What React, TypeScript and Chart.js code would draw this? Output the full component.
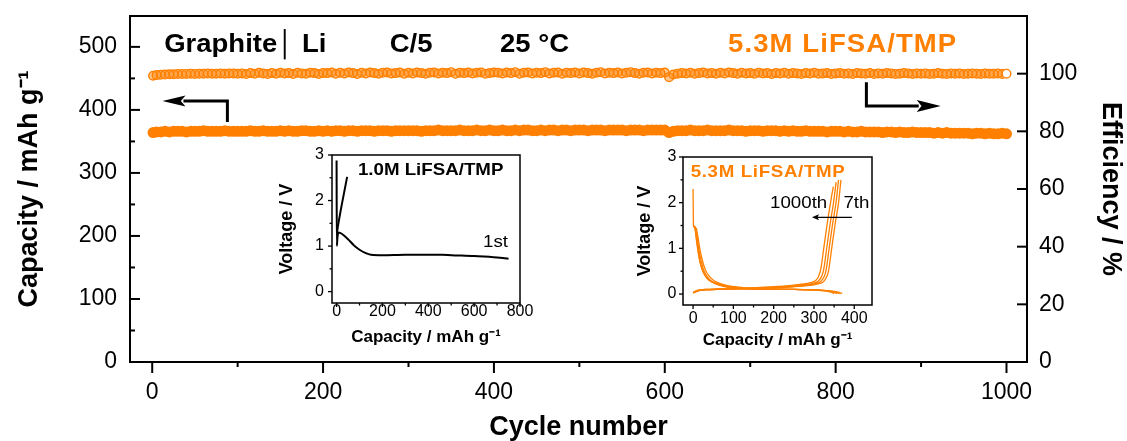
import React, { useEffect, useRef } from 'react';
import { Chart, registerables } from 'chart.js';

Chart.register(...registerables);

const FONT = "'Liberation Sans', Arial, Helvetica, sans-serif";
const ORANGE = '#ff8000';
const BLACK = '#000000';
const SX = 1.1;

// ---------------- main chart data ----------------
const cycles = [
  1, 5, 10, 15, 20, 25, 30, 35, 40, 45, 50, 55, 60, 65, 70, 75, 80, 85, 90, 95, 100,
  105, 110, 115, 120, 125, 130, 135, 140, 145, 150, 155, 160, 165, 170, 175, 180, 185, 190, 195, 200,
  205, 210, 215, 220, 225, 230, 235, 240, 245, 250, 255, 260, 265, 270, 275, 280, 285, 290, 295, 300,
  305, 310, 315, 320, 325, 330, 335, 340, 345, 350, 355, 360, 365, 370, 375, 380, 385, 390, 395, 400,
  405, 410, 415, 420, 425, 430, 435, 440, 445, 450, 455, 460, 465, 470, 475, 480, 485, 490, 495, 500,
  505, 510, 515, 520, 525, 530, 535, 540, 545, 550, 555, 560, 565, 570, 575, 580, 585, 590, 595, 600,
  605, 610, 615, 620, 625, 630, 635, 640, 645, 650, 655, 660, 665, 670, 675, 680, 685, 690, 695, 700,
  705, 710, 715, 720, 725, 730, 735, 740, 745, 750, 755, 760, 765, 770, 775, 780, 785, 790, 795, 800,
  805, 810, 815, 820, 825, 830, 835, 840, 845, 850, 855, 860, 865, 870, 875, 880, 885, 890, 895, 900,
  905, 910, 915, 920, 925, 930, 935, 940, 945, 950, 955, 960, 965, 970, 975, 980, 985, 990, 995, 1000,
];

const capacity = [
  364, 365, 365, 366, 365, 366, 366, 366, 365, 366, 366, 366, 367, 366, 366, 366, 366, 367, 366, 366, 366,
  366, 366, 367, 366, 366, 367, 366, 366, 366, 367, 366, 367, 366, 366, 367, 367, 366, 366, 367, 366,
  367, 366, 367, 367, 366, 367, 367, 366, 367, 367, 367, 366, 367, 367, 367, 366, 367, 367, 367, 367,
  367, 367, 366, 367, 367, 367, 368, 367, 367, 367, 367, 368, 367, 367, 367, 368, 367, 367, 368, 367,
  367, 368, 367, 367, 368, 367, 368, 368, 367, 367, 368, 367, 368, 368, 367, 368, 368, 367, 368, 368,
  368, 367, 368, 368, 368, 367, 368, 368, 368, 368, 367, 368, 368, 368, 367, 368, 368, 368, 368, 368,
  364, 366, 367, 367, 367, 368, 367, 367, 367, 368, 367, 367, 367, 367, 368, 367, 367, 367, 366, 367,
  367, 367, 366, 367, 367, 367, 366, 367, 366, 367, 366, 366, 367, 366, 366, 366, 366, 365, 366, 366,
  366, 365, 366, 365, 365, 366, 365, 365, 365, 365, 364, 365, 365, 364, 365, 364, 364, 365, 364, 364,
  364, 364, 363, 364, 363, 364, 363, 363, 363, 363, 363, 362, 363, 363, 362, 363, 362, 362, 363, 362,
];

const efficiency = [
  99.3, 99.5, 99.6, 99.7, 99.8, 99.8, 99.9, 99.9, 99.9, 100.0, 99.9, 100.0, 100.0, 100.1, 100.0, 100.0, 100.1, 100.0, 100.1, 100.1, 100.0,
  100.1, 99.9, 100.2, 100.0, 100.3, 100.1, 99.9, 100.2, 100.0, 100.3, 100.1, 100.2, 99.9, 100.3, 100.1, 100.0, 100.3, 100.2, 99.9, 100.2,
  100.2, 100.4, 100.0, 100.3, 100.1, 100.4, 100.2, 99.9, 100.3, 100.1, 100.4, 100.2, 100.0, 100.3, 100.4, 100.1, 100.2, 100.4, 100.0, 100.3,
  100.1, 100.4, 100.2, 100.0, 100.3, 100.4, 100.1, 100.3, 100.2, 100.5, 100.0, 100.3, 100.2, 100.4, 100.1, 100.3, 100.4, 100.0, 100.2, 100.4,
  100.3, 100.1, 100.4, 100.2, 100.5, 100.0, 100.3, 100.4, 100.1, 100.3, 100.2, 100.5, 100.1, 100.3, 100.4, 100.0, 100.3, 100.2, 100.4, 100.1,
  100.4, 100.2, 100.0, 100.3, 100.5, 100.1, 100.3, 100.2, 100.4, 100.1, 100.3, 100.5, 100.2, 100.0, 100.3, 100.4, 100.1, 100.3, 100.2, 100.4,
  98.8, 99.7, 100.0, 100.2, 100.1, 100.3, 100.0, 100.2, 100.4, 100.1, 100.2, 100.0, 100.3, 100.1, 100.4, 100.2, 100.0, 100.3, 100.1, 100.2,
  100.0, 100.3, 100.1, 100.2, 99.9, 100.2, 100.1, 100.3, 100.0, 100.2, 100.1, 99.9, 100.2, 100.1, 100.3, 100.0, 100.1, 100.2, 99.9, 100.1,
  100.2, 100.0, 100.1, 99.9, 100.2, 100.1, 100.0, 100.2, 99.9, 100.1, 100.0, 100.2, 100.1, 99.9, 100.0, 100.2, 100.1, 99.9, 100.1, 100.0,
  100.1, 99.9, 100.0, 100.2, 100.0, 99.9, 100.1, 100.0, 100.1, 99.9, 100.0, 100.1, 100.0, 99.9, 100.1, 100.0, 100.0, 100.1, 99.9, 100.0,
];

const xTickValues = [0, 200, 400, 600, 800, 1000];
const xMinorValues = [100, 300, 500, 700, 900];
const capTickValues = [0, 100, 200, 300, 400, 500];
const capMinorValues = [50, 150, 250, 350, 450];
const effTickValues = [0, 20, 40, 60, 80, 100];

// ---------------- inset 1 (1.0M LiFSA/TMP, 1st cycle) ----------------
const in1XTicks = [0, 200, 400, 600, 800];
const in1XMinor = [100, 300, 500, 700];
const in1DisCap = [0, 1, 4, 10, 25, 50, 75, 100, 125, 150, 200, 300, 400, 460, 500, 600, 700, 750];
const in1DisV = [2.88, 1.0, 1.2, 1.3, 1.26, 1.15, 1.02, 0.92, 0.85, 0.81, 0.8, 0.81, 0.81, 0.81, 0.8, 0.78, 0.75, 0.72];
const in1ChgCap = [2, 7, 46];
const in1ChgV = [1.3, 1.47, 2.52];

// ---------------- inset 2 (5.3M LiFSA/TMP, 7th..1000th) ----------------
const in2XTicks = [0, 100, 200, 300, 400];
const in2XMinor = [50, 150, 250, 350];
const vTicks = [0, 1, 2, 3];
const vMinor = [0.5, 1.5, 2.5];

const in2ChgCap7 = [0, 10, 30, 60, 100, 150, 200, 250, 290, 310, 322, 330, 336, 344, 352, 361, 367];
const in2ChgV7 = [0.02, 0.06, 0.09, 0.1, 0.11, 0.12, 0.14, 0.16, 0.19, 0.22, 0.26, 0.35, 0.5, 1.0, 1.5, 2.0, 2.5];
const in2ChgCap300 = [0, 10, 30, 60, 100, 150, 200, 250, 286, 304, 316, 324, 330, 338, 346, 355, 361];
const in2ChgV300 = [0.03, 0.07, 0.09, 0.1, 0.11, 0.12, 0.14, 0.17, 0.2, 0.23, 0.27, 0.36, 0.52, 1.02, 1.52, 2.02, 2.5];
const in2ChgCap600 = [0, 10, 30, 60, 100, 150, 200, 250, 282, 298, 310, 318, 324, 332, 340, 349, 355];
const in2ChgV600 = [0.03, 0.07, 0.1, 0.11, 0.12, 0.13, 0.15, 0.18, 0.21, 0.24, 0.28, 0.37, 0.53, 1.03, 1.53, 2.03, 2.45];
const in2ChgCap1000 = [0, 10, 30, 60, 100, 150, 200, 245, 275, 291, 303, 311, 317, 325, 333, 342, 348];
const in2ChgV1000 = [0.04, 0.08, 0.1, 0.11, 0.12, 0.14, 0.16, 0.19, 0.22, 0.25, 0.29, 0.38, 0.55, 1.05, 1.55, 2.05, 2.35];

const in2DisCap7 = [0, 1, 4, 8, 12, 16, 22, 30, 40, 55, 75, 100, 150, 200, 250, 300, 340, 360, 370];
const in2DisV7 = [2.3, 1.5, 1.45, 1.2, 0.95, 0.75, 0.55, 0.4, 0.3, 0.23, 0.17, 0.13, 0.11, 0.1, 0.1, 0.09, 0.07, 0.04, 0.01];
const in2DisCap300 = [3, 6, 10, 14, 19, 26, 35, 48, 65, 90, 130, 200, 250, 300, 335, 352, 364];
const in2DisV300 = [1.5, 1.38, 1.12, 0.88, 0.64, 0.47, 0.34, 0.26, 0.2, 0.15, 0.12, 0.1, 0.1, 0.09, 0.07, 0.04, 0.01];
const in2DisCap600 = [5, 9, 13, 18, 24, 32, 42, 56, 75, 100, 140, 200, 250, 300, 332, 348, 358];
const in2DisV600 = [1.48, 1.3, 1.05, 0.8, 0.58, 0.42, 0.31, 0.24, 0.19, 0.15, 0.12, 0.11, 0.1, 0.09, 0.07, 0.04, 0.01];
const in2DisCap1000 = [8, 12, 17, 23, 30, 40, 52, 68, 88, 115, 150, 200, 250, 300, 328, 343, 350];
const in2DisV1000 = [1.45, 1.25, 0.98, 0.74, 0.54, 0.39, 0.29, 0.23, 0.18, 0.15, 0.12, 0.11, 0.1, 0.09, 0.07, 0.04, 0.01];

// ---------------- helpers ----------------
type Pt = { x: number; y: number };
const pairs = (xs: number[], ys: number[]): Pt[] => xs.map((x, i) => ({ x, y: ys[i] }));

const fixTicks = (values: number[]) => (scale: any) => {
  scale.ticks = values.map((v) => ({ value: v }));
};
const label = (v: any) => String(v);

const fixSize = (dim: 'width' | 'height', size: number) => (s: any) => {
  s[dim] = size;
  s.paddingTop = 0;
  s.paddingBottom = 0;
  s.paddingLeft = 0;
  s.paddingRight = 0;
};

function drawTickSet(ctx: CanvasRenderingContext2D, scale: any, values: number[], edge: 'left' | 'right' | 'bottom', len: number, a: any) {
  for (const v of values) {
    const p = scale.getPixelForValue(v);
    ctx.beginPath();
    if (edge === 'left') {
      ctx.moveTo(a.left, p);
      ctx.lineTo(a.left + len, p);
    } else if (edge === 'right') {
      ctx.moveTo(a.right, p);
      ctx.lineTo(a.right - len, p);
    } else {
      ctx.moveTo(p, a.bottom);
      ctx.lineTo(p, a.bottom + len);
    }
    ctx.stroke();
  }
}

function stretchedText(
  ctx: CanvasRenderingContext2D,
  text: string,
  x: number,
  y: number,
  font: string,
  color: string,
  baseline: CanvasTextBaseline,
  spacing = 0
) {
  ctx.save();
  ctx.font = font;
  ctx.fillStyle = color;
  ctx.textAlign = 'left';
  ctx.textBaseline = baseline;
  (ctx as any).letterSpacing = spacing + 'px';
  ctx.translate(x, y);
  ctx.scale(SX, 1);
  ctx.fillText(text, 0, 0);
  (ctx as any).letterSpacing = '0px';
  ctx.restore();
}

function arrow(ctx: CanvasRenderingContext2D, pts: [number, number][], lw: number, headLen: number, headHalf: number) {
  ctx.save();
  ctx.strokeStyle = BLACK;
  ctx.fillStyle = BLACK;
  ctx.lineWidth = lw;
  ctx.lineJoin = 'miter';
  const n = pts.length;
  const [tx, ty] = pts[n - 1];
  const [px, py] = pts[n - 2];
  const ang = Math.atan2(ty - py, tx - px);
  const c = Math.cos(ang);
  const s = Math.sin(ang);
  const bx = tx - c * headLen;
  const by = ty - s * headLen;
  ctx.beginPath();
  ctx.moveTo(pts[0][0], pts[0][1]);
  for (let i = 1; i < n - 1; i++) ctx.lineTo(pts[i][0], pts[i][1]);
  ctx.lineTo(bx + c * 2, by + s * 2);
  ctx.stroke();
  ctx.beginPath();
  ctx.moveTo(tx, ty);
  ctx.lineTo(bx - s * headHalf, by + c * headHalf);
  ctx.lineTo(bx + c * headLen * 0.2, by + s * headLen * 0.2);
  ctx.lineTo(bx + s * headHalf, by - c * headHalf);
  ctx.closePath();
  ctx.fill();
  ctx.restore();
}

// ---------------- main chart decorations ----------------
const mainDecor = {
  id: 'mainDecor',
  afterDraw(chart: any) {
    const { ctx, chartArea: a, scales } = chart;
    const { x, y, y1 } = scales;
    ctx.save();
    ctx.strokeStyle = BLACK;
    ctx.lineWidth = 2;
    ctx.strokeRect(a.left, a.top, a.right - a.left, a.bottom - a.top);
    drawTickSet(ctx, y, capTickValues, 'left', 10, a);
    drawTickSet(ctx, y, capMinorValues, 'left', 5, a);
    drawTickSet(ctx, y1, effTickValues, 'right', 10, a);
    drawTickSet(ctx, x, xTickValues, 'bottom', 11, a);
    drawTickSet(ctx, x, xMinorValues, 'bottom', 5, a);
    ctx.restore();

    // arrows: capacity -> left axis, efficiency -> right axis
    arrow(ctx, [[x.getPixelForValue(88), y.getPixelForValue(381)], [x.getPixelForValue(88), y.getPixelForValue(414)], [x.getPixelForValue(12), y.getPixelForValue(414)]], 3, 23, 5.5);
    arrow(ctx, [[x.getPixelForValue(836), y.getPixelForValue(444)], [x.getPixelForValue(836), y.getPixelForValue(406)], [x.getPixelForValue(923), y.getPixelForValue(406)]], 3, 24, 6);

    const big = `bold 25px ${FONT}`;
    const ty = y.getPixelForValue(492.5);
    stretchedText(ctx, 'Graphite│ Li', x.getPixelForValue(14), ty, big, BLACK, 'alphabetic');
    stretchedText(ctx, 'C/5', x.getPixelForValue(278), ty, big, BLACK, 'alphabetic');
    stretchedText(ctx, '25 °C', x.getPixelForValue(407), ty, big, BLACK, 'alphabetic');
    stretchedText(ctx, '5.3M LiFSA/TMP', x.getPixelForValue(674), ty, big, ORANGE, 'alphabetic', 1);
  },
};

// ---------------- inset decorations ----------------
const inset1Decor = {
  id: 'inset1Decor',
  afterDraw(chart: any) {
    const { ctx, chartArea: a, scales } = chart;
    const { x, y } = scales;
    ctx.save();
    ctx.strokeStyle = BLACK;
    ctx.lineWidth = 1.5;
    ctx.strokeRect(a.left, a.top, a.right - a.left, a.bottom - a.top);
    ctx.lineWidth = 1.3;
    drawTickSet(ctx, y, vTicks, 'left', -4, a);
    drawTickSet(ctx, y, vMinor, 'left', -2.5, a);
    drawTickSet(ctx, x, in1XTicks, 'bottom', 4, a);
    drawTickSet(ctx, x, in1XMinor, 'bottom', 2.5, a);
    ctx.restore();
    stretchedText(ctx, '1.0M LiFSA/TMP', x.getPixelForValue(93), y.getPixelForValue(2.66), `bold 17px ${FONT}`, BLACK, 'middle');
    stretchedText(ctx, '1st', x.getPixelForValue(639), y.getPixelForValue(1.09), `17px ${FONT}`, BLACK, 'middle');
  },
};

const inset2Decor = {
  id: 'inset2Decor',
  afterDraw(chart: any) {
    const { ctx, chartArea: a, scales } = chart;
    const { x, y } = scales;
    ctx.save();
    ctx.strokeStyle = BLACK;
    ctx.lineWidth = 1.5;
    ctx.strokeRect(a.left, a.top, a.right - a.left, a.bottom - a.top);
    ctx.lineWidth = 1.3;
    drawTickSet(ctx, y, vTicks, 'left', -4, a);
    drawTickSet(ctx, y, vMinor, 'left', -2.5, a);
    drawTickSet(ctx, x, in2XTicks, 'bottom', 4, a);
    drawTickSet(ctx, x, in2XMinor, 'bottom', 2.5, a);
    ctx.restore();
    stretchedText(ctx, '5.3M LiFSA/TMP', x.getPixelForValue(-6), y.getPixelForValue(2.66), `bold 17px ${FONT}`, ORANGE, 'middle', 0.6);
    stretchedText(ctx, '1000th', x.getPixelForValue(191), y.getPixelForValue(1.98), `17px ${FONT}`, BLACK, 'middle');
    stretchedText(ctx, '7th', x.getPixelForValue(373), y.getPixelForValue(1.98), `17px ${FONT}`, BLACK, 'middle');
    arrow(ctx, [[x.getPixelForValue(394), y.getPixelForValue(1.68)], [x.getPixelForValue(295), y.getPixelForValue(1.68)]], 1.2, 7, 3);
  },
};

// ---------------- configs ----------------
const commonOpts = {
  animation: false,
  responsive: false,
  devicePixelRatio: 1,
  events: [],
  plugins: { legend: { display: false }, tooltip: { enabled: false } },
};

function mainConfig(): any {
  return {
    type: 'scatter',
    data: {
      datasets: [
        {
          label: 'Capacity',
          data: pairs(cycles, capacity),
          yAxisID: 'y',
          pointRadius: 5.5,
          pointBackgroundColor: ORANGE,
          pointBorderColor: ORANGE,
          pointBorderWidth: 0,
        },
        {
          label: 'Efficiency',
          data: pairs(cycles, efficiency),
          yAxisID: 'y1',
          pointRadius: 4.3,
          pointBackgroundColor: (c: any) => (c.dataIndex === efficiency.length - 1 ? '#ffffff' : 'rgba(255,128,0,0.45)'),
          pointBorderColor: ORANGE,
          pointBorderWidth: 1.4,
        },
      ],
    },
    options: {
      ...commonOpts,
      layout: { padding: { top: 16, left: 0, right: 0, bottom: 0 } },
      scales: {
        x: {
          type: 'linear',
          position: 'bottom',
          min: -26,
          max: 1024,
          grid: { display: false, drawTicks: false },
          border: { display: false },
          afterBuildTicks: fixTicks(xTickValues),
          afterFit: fixSize('height', 79),
          ticks: { color: BLACK, font: { family: FONT, size: 23 }, padding: 17, autoSkip: false, maxRotation: 0, callback: label },
          title: { display: true, text: 'Cycle number', color: BLACK, font: { family: FONT, size: 27, weight: 'bold', lineHeight: 1 }, padding: 0 },
        },
        y: {
          type: 'linear',
          position: 'left',
          min: 0,
          max: 549,
          grid: { display: false, drawTicks: false },
          border: { display: false },
          afterBuildTicks: fixTicks(capTickValues),
          afterFit: fixSize('width', 130),
          ticks: { color: BLACK, font: { family: FONT, size: 23 }, padding: 13, autoSkip: false, callback: label },
          title: { display: true, text: 'Capacity / mAh g⁻¹', color: BLACK, font: { family: FONT, size: 27, weight: 'bold', lineHeight: 1 }, padding: 16 },
        },
        y1: {
          type: 'linear',
          position: 'right',
          min: 0,
          max: 120,
          grid: { display: false, drawTicks: false },
          border: { display: false },
          afterBuildTicks: fixTicks(effTickValues),
          afterFit: fixSize('width', 100),
          ticks: { color: BLACK, font: { family: FONT, size: 23 }, padding: 12, autoSkip: false, callback: label },
          title: { display: true, text: 'Efficiency / %', color: BLACK, font: { family: FONT, size: 27, weight: 'bold', lineHeight: 1 }, padding: 3.5 },
        },
      },
    },
    plugins: [mainDecor],
  };
}

function lineDs(xs: number[], ys: number[], color: string, width: number) {
  return {
    data: pairs(xs, ys),
    showLine: true,
    borderColor: color,
    borderWidth: width,
    pointRadius: 0,
    cubicInterpolationMode: 'monotone',
  };
}

function insetScales(o: {
  xMin: number; xMax: number; yMin: number; yMax: number; xTicks: number[];
  yWidth: number; xHeight: number; xPad: number; yPad: number; xTitlePad: number; yTitlePad: number;
}) {
  return {
    x: {
      type: 'linear',
      min: o.xMin,
      max: o.xMax,
      grid: { display: false, drawTicks: false },
      border: { display: false },
      afterBuildTicks: fixTicks(o.xTicks),
      afterFit: fixSize('height', o.xHeight),
      ticks: { color: BLACK, font: { family: FONT, size: 16, lineHeight: 1 }, padding: o.xPad, autoSkip: false, maxRotation: 0, callback: label },
      title: { display: true, text: 'Capacity / mAh g⁻¹', color: BLACK, font: { family: FONT, size: 17, weight: 'bold', lineHeight: 1 }, padding: o.xTitlePad },
    },
    y: {
      type: 'linear',
      min: o.yMin,
      max: o.yMax,
      grid: { display: false, drawTicks: false },
      border: { display: false },
      afterBuildTicks: fixTicks(vTicks),
      afterFit: fixSize('width', o.yWidth),
      ticks: { color: BLACK, font: { family: FONT, size: 16, lineHeight: 1 }, padding: o.yPad, autoSkip: false, callback: label },
      title: { display: true, text: 'Voltage / V', color: BLACK, font: { family: FONT, size: 18, weight: 'bold', lineHeight: 1 }, padding: o.yTitlePad },
    },
  };
}

function inset1Config(): any {
  return {
    type: 'scatter',
    data: {
      datasets: [lineDs(in1DisCap, in1DisV, BLACK, 2), lineDs(in1ChgCap, in1ChgV, BLACK, 2)],
    },
    options: {
      ...commonOpts,
      layout: { padding: { top: 15, right: 20, left: 0, bottom: 0 } },
      scales: insetScales({
        xMin: -20, xMax: 800, yMin: -0.25, yMax: 3, xTicks: in1XTicks,
        yWidth: 62, xHeight: 57, xPad: 0.5, yPad: 8, xTitlePad: 14.5, yTitlePad: 8,
      }),
    },
    plugins: [inset1Decor],
  };
}

function inset2Config(): any {
  return {
    type: 'scatter',
    data: {
      datasets: [
        lineDs(in2DisCap7, in2DisV7, ORANGE, 1.3),
        lineDs(in2DisCap300, in2DisV300, ORANGE, 1.3),
        lineDs(in2DisCap600, in2DisV600, ORANGE, 1.3),
        lineDs(in2DisCap1000, in2DisV1000, ORANGE, 1.3),
        lineDs(in2ChgCap7, in2ChgV7, ORANGE, 1.3),
        lineDs(in2ChgCap300, in2ChgV300, ORANGE, 1.3),
        lineDs(in2ChgCap600, in2ChgV600, ORANGE, 1.3),
        lineDs(in2ChgCap1000, in2ChgV1000, ORANGE, 1.3),
      ],
    },
    options: {
      ...commonOpts,
      layout: { padding: { top: 17, right: 23, left: 0, bottom: 0 } },
      scales: insetScales({
        xMin: -25, xMax: 444, yMin: -0.24, yMax: 3, xTicks: in2XTicks,
        yWidth: 53, xHeight: 55, xPad: 6, yPad: 6.5, xTitlePad: 11.5, yTitlePad: 6,
      }),
    },
    plugins: [inset2Decor],
  };
}

export default function App() {
  const mainRef = useRef<HTMLCanvasElement>(null);
  const in1Ref = useRef<HTMLCanvasElement>(null);
  const in2Ref = useRef<HTMLCanvasElement>(null);

  useEffect(() => {
    const charts: Chart[] = [];
    if (mainRef.current) charts.push(new Chart(mainRef.current, mainConfig()));
    if (in1Ref.current) charts.push(new Chart(in1Ref.current, inset1Config()));
    if (in2Ref.current) charts.push(new Chart(in2Ref.current, inset2Config()));
    return () => charts.forEach((c) => c.destroy());
  }, []);

  return (
    <div style={{ position: 'absolute', left: 0, top: 0, width: 1127, height: 441, background: '#ffffff', overflow: 'hidden' }}>
      <canvas ref={mainRef} width={1127} height={441} style={{ position: 'absolute', left: 0, top: 0, width: 1127, height: 441 }} />
      <canvas ref={in1Ref} width={270} height={220} style={{ position: 'absolute', left: 270, top: 140, width: 270, height: 220 }} />
      <canvas ref={in2Ref} width={265} height={220} style={{ position: 'absolute', left: 630, top: 140, width: 265, height: 220 }} />
    </div>
  );
}
